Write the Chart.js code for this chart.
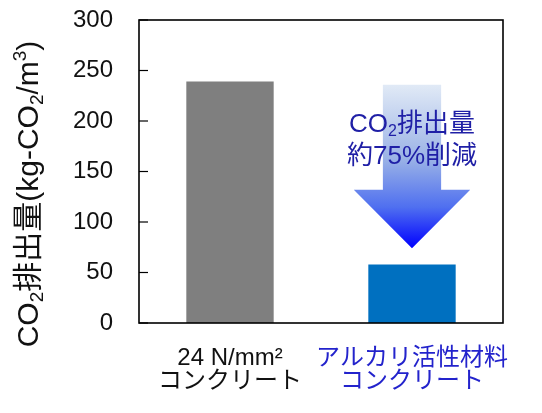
<!DOCTYPE html>
<html lang="ja">
<head>
  <meta charset="UTF-8">
  <title>CO2排出量</title>
  <script src="https://cdn.jsdelivr.net/npm/chart.js"></script>
  <style>
    body { margin: 0; padding: 0; background: #fff; }
    .chart-box { width: 542px; height: 413px; }
  </style>
</head>
<body>
  <div class="chart-box">
    <canvas id="co2Chart"></canvas>
  </div>

  <script>
    // data
    const categories = [['24 N/mm²', 'コンクリート'], ['アルカリ活性材料', 'コンクリート']];
    const emissions = [239, 58];
    const barColors = ['#7f7f7f', '#0070c0'];
    const labelColors = ['#111111', '#2323cc'];
    const yTicks = [0, 50, 100, 150, 200, 250, 300];
    const arrowSpan = { top: 236, headBase: 132, tip: 74 };

    const fontJP = "'Liberation Sans', 'Noto Sans CJK JP', sans-serif";

    // text pieces: [text, 'n' normal | 'sub' | 'sup']
    const yTitle = [['CO', 'n'], ['2', 'sub'], ['排出量(kg-CO', 'n'], ['2', 'sub'], ['/m', 'n'], ['3', 'sup'], [')', 'n']];
    const noteLine1 = [['CO', 'n'], ['2', 'sub'], ['排出量', 'n']];
    const noteLine2 = [['約75%削減', 'n']];

    function drawRich(ctx, parts, x, y, size) {
      const small = Math.round(size * 0.62);
      const fontOf = p => (p[1] === 'n' ? size : small) + 'px ' + fontJP;
      let total = 0;
      parts.forEach(p => { ctx.font = fontOf(p); total += ctx.measureText(p[0]).width; });
      let cx = x - total / 2;
      ctx.textAlign = 'left';
      ctx.textBaseline = 'alphabetic';
      const base = y + size * 0.36;
      parts.forEach(p => {
        ctx.font = fontOf(p);
        let dy = 0;
        if (p[1] === 'sub') dy = size * 0.16;
        if (p[1] === 'sup') dy = -size * 0.38;
        ctx.fillText(p[0], cx, base + dy);
        cx += ctx.measureText(p[0]).width;
      });
    }

    // black frame, inward ticks, y title
    const framePlugin = {
      id: 'frame',
      afterDraw(chart) {
        const { ctx, chartArea: a, scales } = chart;
        ctx.save();
        ctx.strokeStyle = '#000';
        ctx.lineWidth = 1.6;
        ctx.strokeRect(a.left, a.top, a.right - a.left, a.bottom - a.top);
        ctx.lineWidth = 1.2;
        yTicks.forEach(v => {
          const y = scales.y.getPixelForValue(v);
          ctx.beginPath();
          ctx.moveTo(a.left, y);
          ctx.lineTo(a.left + 9, y);
          ctx.stroke();
        });
        ctx.translate(27, 194);
        ctx.rotate(-Math.PI / 2);
        ctx.fillStyle = '#111';
        drawRich(ctx, yTitle, 0, 0, 30);
        ctx.restore();
      }
    };

    // reduction arrow over the second bar
    const arrowPlugin = {
      id: 'arrow',
      afterDatasetsDraw(chart) {
        const { ctx, scales } = chart;
        const x = scales.x.getPixelForValue(1);
        const catW = scales.x.width / categories.length;
        const shaft = catW * 0.32 / 2;
        const head = catW * 0.64 / 2;
        const yTop = scales.y.getPixelForValue(arrowSpan.top);
        const yBase = scales.y.getPixelForValue(arrowSpan.headBase);
        const yTip = scales.y.getPixelForValue(arrowSpan.tip);

        const grad = ctx.createLinearGradient(0, yTop, 0, yTip);
        grad.addColorStop(0, '#e1eaf6');
        grad.addColorStop(0.45, '#9bb3e6');
        grad.addColorStop(0.75, '#4f6ff0');
        grad.addColorStop(1, '#0000ff');

        ctx.save();
        ctx.fillStyle = grad;
        ctx.beginPath();
        ctx.moveTo(x - shaft, yTop);
        ctx.lineTo(x + shaft, yTop);
        ctx.lineTo(x + shaft, yBase);
        ctx.lineTo(x + head, yBase);
        ctx.lineTo(x, yTip);
        ctx.lineTo(x - head, yBase);
        ctx.lineTo(x - shaft, yBase);
        ctx.closePath();
        ctx.fill();

        ctx.fillStyle = '#1f1fa6';
        drawRich(ctx, noteLine1, x, yTop + 38, 26);
        drawRich(ctx, noteLine2, x, yTop + 70, 26);
        ctx.restore();
      }
    };

    const ctx = document.getElementById('co2Chart').getContext('2d');
    new Chart(ctx, {
      type: 'bar',
      data: {
        labels: categories,
        datasets: [{
          data: emissions,
          backgroundColor: barColors,
          borderWidth: 0,
          categoryPercentage: 1.0,
          barPercentage: 0.48
        }]
      },
      options: {
        responsive: true,
        maintainAspectRatio: false,
        animation: false,
        layout: { padding: { top: 20, right: 39, left: 0, bottom: 0 } },
        plugins: {
          legend: { display: false },
          tooltip: { enabled: false }
        },
        scales: {
          x: {
            grid: { display: false, drawTicks: false },
            border: { display: false },
            ticks: {
              padding: 24,
              maxRotation: 0,
              minRotation: 0,
              autoSkip: false,
              color: c => labelColors[c.index],
              font: { size: 24, family: fontJP, lineHeight: 0.96 }
            },
            afterFit: s => { s.height = 90; s.paddingLeft = 0; s.paddingRight = 0; }
          },
          y: {
            min: 0,
            max: 300,
            afterBuildTicks: s => { s.ticks = yTicks.map(v => ({ value: v })); },
            grid: { display: false, drawTicks: false },
            border: { display: false },
            ticks: {
              padding: 26,
              color: '#111',
              font: { size: 24, family: fontJP }
            },
            afterFit: s => { s.width = 139; s.paddingTop = 0; s.paddingBottom = 0; }
          }
        }
      },
      plugins: [framePlugin, arrowPlugin]
    });
  </script>
</body>
</html>
